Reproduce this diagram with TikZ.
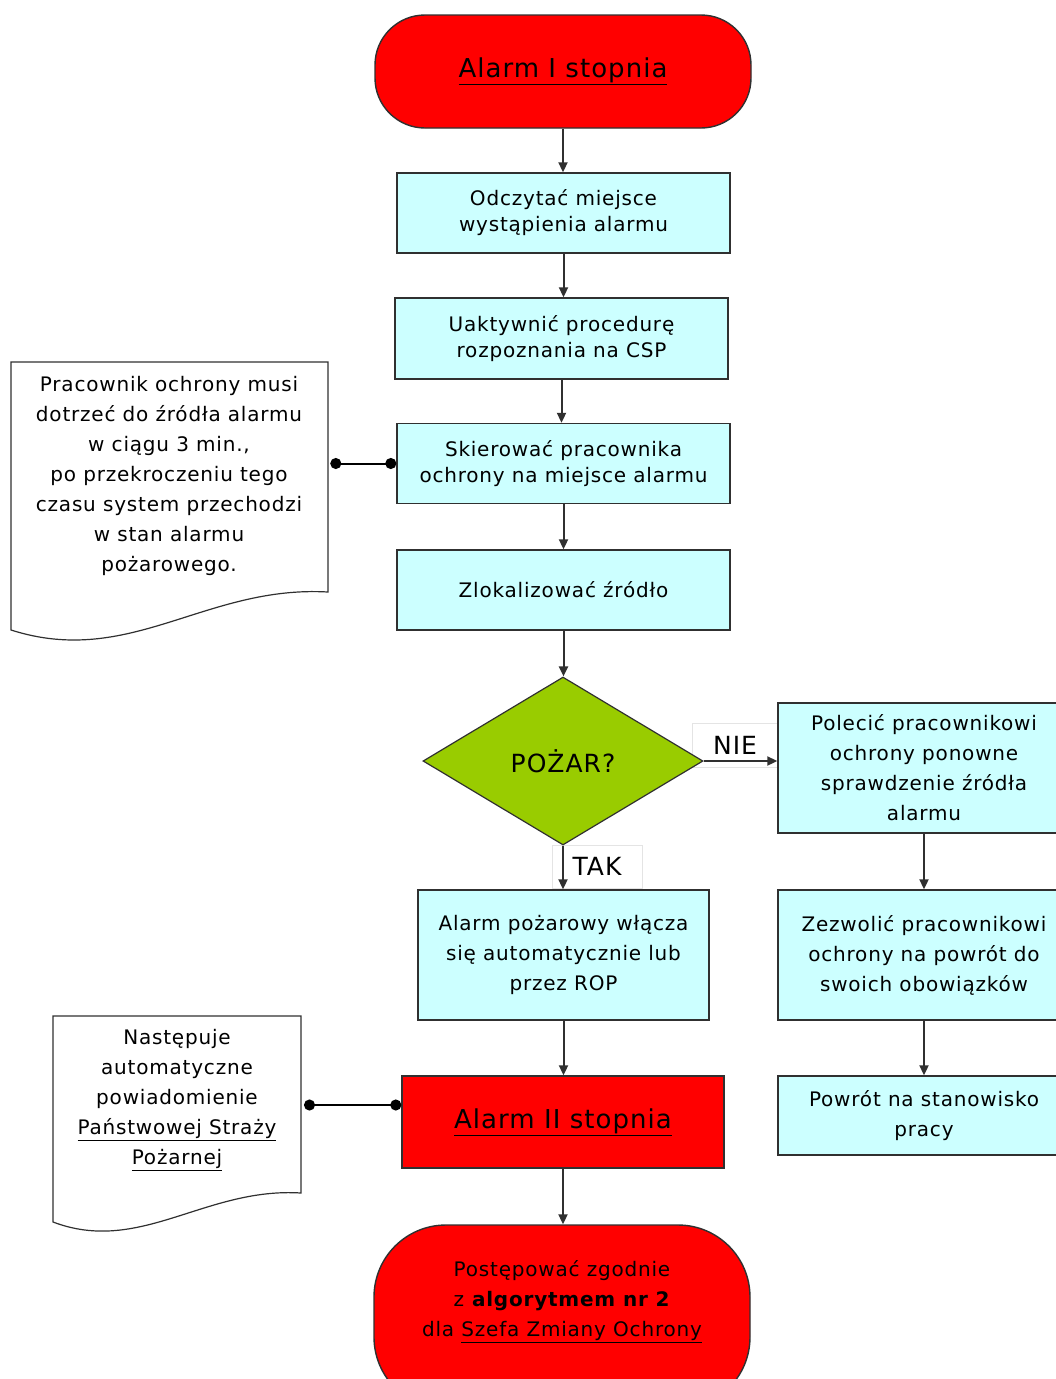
\documentclass[tikz,border=0pt]{standalone}
\usepackage{fontspec}
\setmainfont[LetterSpace=4]{DejaVu Sans}
\usetikzlibrary{shapes.geometric,arrows.meta}
\definecolor{alarmred}{HTML}{FF0000}
\definecolor{stepcyan}{HTML}{CCFFFF}
\definecolor{firegreen}{HTML}{99CC00}
\definecolor{edgegray}{HTML}{303030}
\definecolor{labelgray}{HTML}{E4E4E4}

\begin{document}
\begin{tikzpicture}[x=1pt,y=-1pt,
  stepbox/.style={rectangle,draw=edgegray,line width=1.4pt,fill=stepcyan,inner sep=0pt,
    align=center,font=\fontsize{20}{30}\selectfont},
  termbox/.style={rectangle,draw=edgegray,line width=1.4pt,fill=alarmred,inner sep=0pt,
    align=center,font=\fontsize{26}{30}\selectfont},
  notetext/.style={align=center,inner sep=0pt,font=\fontsize{20}{30}\selectfont},
  notepath/.style={draw=edgegray,line width=1.2pt,fill=white},
  answer/.style={rectangle,draw=labelgray,line width=1pt,fill=white,inner sep=0pt,
    font=\fontsize{25}{30}\selectfont},
  flow/.style={draw=edgegray,line width=2pt,-{Triangle[length=10pt,width=9pt]}},
  dotlink/.style={draw=black,line width=2pt,{Circle[length=11pt]}-{Circle[length=11pt]}}
]
\clip (0,0) rectangle (1056,1379);

% answer labels (behind the diamond)
\node[answer,minimum width=86pt,minimum height=44pt] (nie) at (735,745) {NIE};
\node[answer,minimum width=90pt,minimum height=43pt] (tak) at (597,866.5) {TAK};

% main column
\node[termbox,minimum width=376pt,minimum height=113pt,rounded corners=50pt] (alarm1) at (563,71.5)
  {\underline{Alarm I stopnia}};
\node[stepbox,minimum width=333pt,minimum height=80pt,font=\fontsize{20}{26}\selectfont] (odczyt) at (563.5,213)
  {Odczytać miejsce\\wystąpienia alarmu};
\node[stepbox,minimum width=333pt,minimum height=81pt,font=\fontsize{20}{26}\selectfont] (uakt) at (561.5,338.5)
  {Uaktywnić procedurę\\rozpoznania na CSP};
\node[stepbox,minimum width=333pt,minimum height=80pt,font=\fontsize{20}{26}\selectfont] (skier) at (563.5,463.5)
  {Skierować pracownika\\ochrony na miejsce alarmu};
\node[stepbox,minimum width=333pt,minimum height=80pt] (zlok) at (563.5,590)
  {Zlokalizować źródło};
\node[diamond,draw=edgegray,line width=1.2pt,fill=firegreen,inner sep=0pt,
  minimum width=280pt,minimum height=168pt,font=\fontsize{25}{30}\selectfont] (pozar) at (563,761)
  {POŻAR?};

\node[stepbox,minimum width=291pt,minimum height=130pt] (autom) at (563.5,955)
  {Alarm pożarowy włącza\\się automatycznie lub\\przez ROP};
\node[termbox,minimum width=322pt,minimum height=92pt] (alarm2) at (563,1122)
  {\underline{Alarm II stopnia}};
\node[termbox,minimum width=376pt,minimum height=184pt,rounded corners=72pt] (algor) at (562,1317) {};
\node[notetext] (algortext) at (562,1302)
  {Postępować zgodnie\\z \textbf{algorytmem nr 2}\\dla \underline{Szefa Zmiany Ochrony}};

% right column
\node[stepbox,minimum width=292pt,minimum height=130pt] (polec) at (924,768)
  {Polecić pracownikowi\\ochrony ponowne\\sprawdzenie źródła\\alarmu};
\node[stepbox,minimum width=292pt,minimum height=130pt] (zezw) at (924,955)
  {Zezwolić pracownikowi\\ochrony na powrót do\\swoich obowiązków};
\node[stepbox,minimum width=292pt,minimum height=79pt] (powrot) at (924,1115.5)
  {Powrót na stanowisko\\pracy};

% notes
\draw[notepath] (11,362) -- (328,362) -- (328,592)
  .. controls (205,585) and (130,668) .. (11,630) -- cycle;
\node[notetext] (note1) at (169,476)
  {Pracownik ochrony musi\\dotrzeć do źródła alarmu\\w ciągu 3 min.,\\po przekroczeniu tego\\czasu system przechodzi\\w stan alarmu\\pożarowego.};
\draw[notepath] (53,1016) -- (301,1016) -- (301,1193)
  .. controls (205,1187) and (140,1255) .. (53,1222) -- cycle;
\node[notetext] (note2) at (177,1100)
  {Następuje\\automatyczne\\powiadomienie\\\underline{Państwowej Straży}\\\underline{Pożarnej}};

\coordinate (note1edge) at ([xshift=-66pt]skier.west);
\coordinate (note2edge) at (304,1105);

% connectors
\draw[flow] (alarm1.south) -- (alarm1.south |- odczyt.north);
\draw[flow] (odczyt.south) -- (odczyt.south |- uakt.north);
\draw[flow] (uakt.south) -- (uakt.south |- skier.north);
\draw[flow] (skier.south) -- (skier.south |- zlok.north);
\draw[flow] (zlok.south) -- (zlok.south |- pozar.north);
\draw[flow] (pozar.east) -- (pozar.east -| polec.west);
\draw[flow] (pozar.south) -- (pozar.south |- autom.north);
\draw[flow] (autom.south) -- (autom.south |- alarm2.north);
\draw[flow] (alarm2.south) -- (alarm2.south |- algor.north);
\draw[flow] (polec.south) -- (polec.south |- zezw.north);
\draw[flow] (zezw.south) -- (zezw.south |- powrot.north);
\draw[dotlink] (note1edge) -- (skier.west);
\draw[dotlink] (note2edge) -- (note2edge -| alarm2.west);

\end{tikzpicture}
\end{document}
